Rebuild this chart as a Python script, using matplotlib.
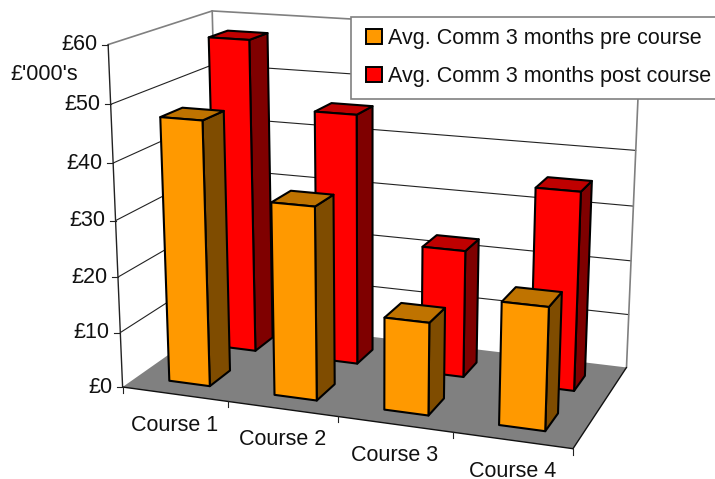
import matplotlib
matplotlib.use('Agg')
import matplotlib.pyplot as plt
from matplotlib.patches import Polygon, Rectangle
import numpy as np

plt.rcParams['font.family'] = ['Liberation Sans', 'DejaVu Sans']

courses = ['Course 1', 'Course 2', 'Course 3', 'Course 4']
pre_course = [47.2, 34.2, 16.3, 21.3]
post_course = [57.7, 45.8, 23.2, 35.6]
series_names = ['Avg. Comm 3 months pre course', 'Avg. Comm 3 months post course']
value_ticks = [0, 10, 20, 30, 40, 50, 60]

W, H = 715, 479
FS = 15.5
PRE_X = (0.31, 0.70)       # bar extent inside a category
POST_X = (0.31, 0.70)
DEPTH_PRE = (0.14, 0.35)   # front row
DEPTH_POST = (0.63, 0.83)  # back row

# (category, depth, value) -> pixel for the corners of the chart box
box_world = np.array([[0, 0, 0], [4, 0, 0], [4, 1, 0], [0, 1, 0],
                      [0, 0, 60], [0, 1, 60], [4, 1, 60]], float)
box_px = np.array([[122.7, 386.7], [572.7, 449.3], [626.7, 366.7], [220, 319],
                   [108.3, 44.3], [212, 11], [640.7, 36]])

rows = []
for (a, b, c), (u, v) in zip(box_world, box_px):
    rows.append([a, b, c, 1, 0, 0, 0, 0, -u*a, -u*b, -u*c, -u])
    rows.append([0, 0, 0, 0, a, b, c, 1, -v*a, -v*b, -v*c, -v])
cam = np.linalg.svd(np.array(rows))[2][-1].reshape(3, 4)


def proj(x, y, z):
    p = cam @ np.array([x, y, z, 1.0])
    return p[0]/p[2], p[1]/p[2]


fig = plt.figure(figsize=(W/100, H/100), dpi=100)
ax = fig.add_axes([0, 0, 1, 1])
ax.set_xlim(0, W)
ax.set_ylim(H, 0)
ax.axis('off')

GRAY = '#808080'

# Floor
ax.add_patch(Polygon([proj(0, 0, 0), proj(4, 0, 0), proj(4, 1, 0), proj(0, 1, 0)],
                     fc=GRAY, ec='none', zorder=1))


def line3(p0, p1, **kw):
    a, b = proj(*p0), proj(*p1)
    ax.plot([a[0], b[0]], [a[1], b[1]], solid_capstyle='round', **kw)


# Gridlines on the two walls
for v in value_ticks[1:-1]:
    line3((0, 0, v), (0, 1, v), color='#222222', lw=0.8, zorder=2)
    line3((0, 1, v), (4, 1, v), color='#222222', lw=0.8, zorder=2)

# Wall outlines
line3((0, 0, 60), (0, 1, 60), color=GRAY, lw=1.2, zorder=2)
line3((0, 1, 60), (4, 1, 60), color=GRAY, lw=1.2, zorder=2)
line3((0, 1, 60), (0, 1, 0), color=GRAY, lw=1.2, zorder=2)
line3((4, 1, 60), (4, 1, 0), color=GRAY, lw=1.2, zorder=2)

# Value axis and floor edges
line3((0, 0, 60), (0, 0, 0), color='#222222', lw=1.0, zorder=2)
line3((0, 0, 0), (4, 0, 0), color='#111111', lw=1.0, zorder=2)
line3((4, 0, 0), (4, 1, 0), color='#111111', lw=1.0, zorder=2)

for v in value_ticks:
    x, y = proj(0, 0, v)
    ax.plot([x-6, x], [y, y], color='#222222', lw=0.8, zorder=2)
    ax.text(x-10.5, y, '£%d' % v, ha='right', va='center', fontsize=FS,
            color='#111111')

for i in range(len(courses)+1):
    x, y = proj(i, 0, 0)
    ax.plot([x, x], [y, y+6], color='#222222', lw=0.8, zorder=2)
for i, name in enumerate(courses):
    x, y = proj(i+0.5, 0, 0)
    ax.text(x, y+31, name, ha='center', va='center', fontsize=FS, color='#111111')

# Axis title, its lower edge is cut off
title = ax.text(44, 74, "£'000's", ha='center', va='center', fontsize=FS, color='#111111')
title.set_clip_path(Rectangle((0, 0), W, 79.5, transform=ax.transData))


def draw_bar(i, value, span, depth, colors, z):
    x0, x1 = i + span[0], i + span[1]
    y0, y1 = depth
    front = [proj(x0, y0, 0), proj(x1, y0, 0), proj(x1, y0, value), proj(x0, y0, value)]
    side = [proj(x1, y0, 0), proj(x1, y1, 0), proj(x1, y1, value), proj(x1, y0, value)]
    top = [proj(x0, y0, value), proj(x1, y0, value), proj(x1, y1, value), proj(x0, y1, value)]
    for pts, col in zip((side, top, front), colors):
        ax.add_patch(Polygon(pts, fc=col, ec='black', lw=1.5, joinstyle='round', zorder=z))


post_colors = ('#7F0000', '#BF0000', '#FF0000')
pre_colors = ('#7F4C00', '#BF7300', '#FF9900')
for i in reversed(range(len(courses))):
    draw_bar(i, post_course[i], POST_X, DEPTH_POST, post_colors, 3)
for i in reversed(range(len(courses))):
    draw_bar(i, pre_course[i], PRE_X, DEPTH_PRE, pre_colors, 4)

# Legend box runs off the right edge of the figure
ax.add_patch(Rectangle((350.5, 17), 400, 82, fc='white', ec=GRAY, lw=1.2, zorder=5))
handles = [Rectangle((0, 0), 1, 1, fc=pre_colors[2], ec='black', lw=1.4),
           Rectangle((0, 0), 1, 1, fc=post_colors[2], ec='black', lw=1.4)]
leg = ax.legend(handles, series_names, loc='upper left',
                bbox_to_anchor=(366/W, 1-28/H), frameon=False, fontsize=FS,
                borderpad=0, borderaxespad=0, handlelength=0.72, handleheight=0.72,
                handletextpad=0.3, labelspacing=0.78, labelcolor='#111111')
leg.set_zorder(6)

fig.savefig('out.png', dpi=100)
